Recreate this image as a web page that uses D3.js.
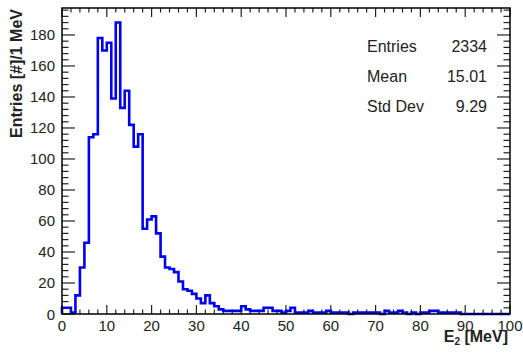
<!DOCTYPE html>
<html>
<head>
<meta charset="utf-8">
<script src="https://cdn.jsdelivr.net/npm/d3@7"></script>
<style>
  body { margin: 0; background: #fff; }
  svg { display: block; font-family: "Liberation Sans", Arial, sans-serif; }
</style>
</head>
<body>
<svg id="drawing_region"></svg>
<script>
// bin contents, 1 MeV bins from 0 to 100
const binLow = d3.range(0, 100);
const counts = [
    4, 4, 1, 12, 30, 46, 114, 116, 178, 170,
    175, 139, 188, 133, 144, 122, 108, 116, 55, 61,
    63, 52, 37, 30, 29, 27, 21, 16, 15, 13,
    10, 7, 12, 7, 5, 3, 2, 2, 2, 2,
    5, 3, 2, 2, 2, 4, 4, 2, 2, 1,
    2, 4, 1, 1, 1, 2, 1, 1, 1, 2,
    1, 1, 1, 1, 0, 1, 1, 1, 1, 1,
    1, 0, 2, 1, 1, 2, 1, 0, 1, 0,
    1, 1, 2, 2, 1, 1, 1, 1, 1, 0,
    0, 0, 0, 0, 0, 0, 0, 0, 0, 0
];
const xTicks = [0, 10, 20, 30, 40, 50, 60, 70, 80, 90, 100];
const yTicks = [0, 20, 40, 60, 80, 100, 120, 140, 160, 180];
const statNames = ["Entries", "Mean", "Std Dev"];
const statValues = ["2334", "15.01", "9.29"];

const width = 523;
const height = 353;
const margin = {top: 8, right: 13, bottom: 39, left: 62};

const svg = d3.select('#drawing_region')
    .attr('width', width)
    .attr('height', height);

const inner_width = width - margin.left - margin.right;
const inner_height = height - margin.top - margin.bottom;

const chart = svg.append('g')
    .attr('transform', `translate(${margin.left}, ${margin.top})`);

const xscale = d3.scaleLinear().domain([0, 100]).range([0, inner_width]);
const yscale = d3.scaleLinear().domain([0, 197.4]).range([inner_height, 0]);

// tick marks on all four sides (ROOT style)
const xMinor = d3.range(0, 101, 2);
const yMinor = d3.range(0, 197, 4);
const xMajLen = 9, xMinLen = 4.5, yMajLen = 13, yMinLen = 6.5;

const ticks = chart.append('g').attr('stroke', '#222').attr('stroke-width', 1.2);
xMinor.forEach(v => {
    const len = v % 10 === 0 ? xMajLen : xMinLen;
    const x = xscale(v);
    ticks.append('line').attr('x1', x).attr('x2', x)
        .attr('y1', inner_height).attr('y2', inner_height - len);
    ticks.append('line').attr('x1', x).attr('x2', x)
        .attr('y1', 0).attr('y2', len);
});
yMinor.forEach(v => {
    const len = v % 20 === 0 ? yMajLen : yMinLen;
    const y = yscale(v);
    ticks.append('line').attr('x1', 0).attr('x2', len)
        .attr('y1', y).attr('y2', y);
    ticks.append('line').attr('x1', inner_width).attr('x2', inner_width - len)
        .attr('y1', y).attr('y2', y);
});

// histogram outline
const pts = [[0, 0]];
binLow.forEach((lo, i) => {
    pts.push([lo, counts[i]]);
    pts.push([lo + 1, counts[i]]);
});
pts.push([100, 0]);

const line = d3.line()
    .x(d => xscale(d[0]))
    .y(d => yscale(d[1]));

chart.append('path')
    .attr('d', line(pts))
    .attr('fill', 'none')
    .attr('stroke', '#0000f0')
    .attr('stroke-width', 2.6)
    .attr('stroke-linejoin', 'miter');

// frame
chart.append('rect')
    .attr('width', inner_width)
    .attr('height', inner_height)
    .attr('fill', 'none')
    .attr('stroke', '#000')
    .attr('stroke-width', 1.5);

// tick labels
chart.selectAll('.xlab')
    .data(xTicks)
    .enter().append('text')
    .attr('x', d => xscale(d))
    .attr('y', inner_height + 17)
    .attr('text-anchor', 'middle')
    .attr('font-size', 15)
    .attr('fill', '#222')
    .text(d => d);

chart.selectAll('.ylab')
    .data(yTicks)
    .enter().append('text')
    .attr('x', -7)
    .attr('y', d => yscale(d) + 5.5)
    .attr('text-anchor', 'end')
    .attr('font-size', 15)
    .attr('fill', '#222')
    .text(d => d);

// axis titles
const xt = svg.append('text')
    .attr('x', 508)
    .attr('y', 342)
    .attr('text-anchor', 'end')
    .attr('font-size', 16)
    .attr('font-weight', 'bold')
    .attr('fill', '#222');
xt.append('tspan').text('E');
xt.append('tspan').attr('font-size', 10).attr('dy', 3).text('2');
xt.append('tspan').attr('dy', -3).text(' [MeV]');

svg.append('text')
    .attr('transform', 'translate(22, 9) rotate(-90)')
    .attr('text-anchor', 'end')
    .attr('font-size', 16)
    .attr('font-weight', 'bold')
    .attr('fill', '#222')
    .text('Entries [#]/1 MeV');

// stats box
const stats = svg.append('g').attr('font-size', 16).attr('fill', '#222');
statNames.forEach((n, i) => {
    stats.append('text').attr('x', 367).attr('y', 52 + i * 30).text(n);
    stats.append('text').attr('x', 487).attr('y', 52 + i * 30)
        .attr('text-anchor', 'end').text(statValues[i]);
});
</script>
</body>
</html>
